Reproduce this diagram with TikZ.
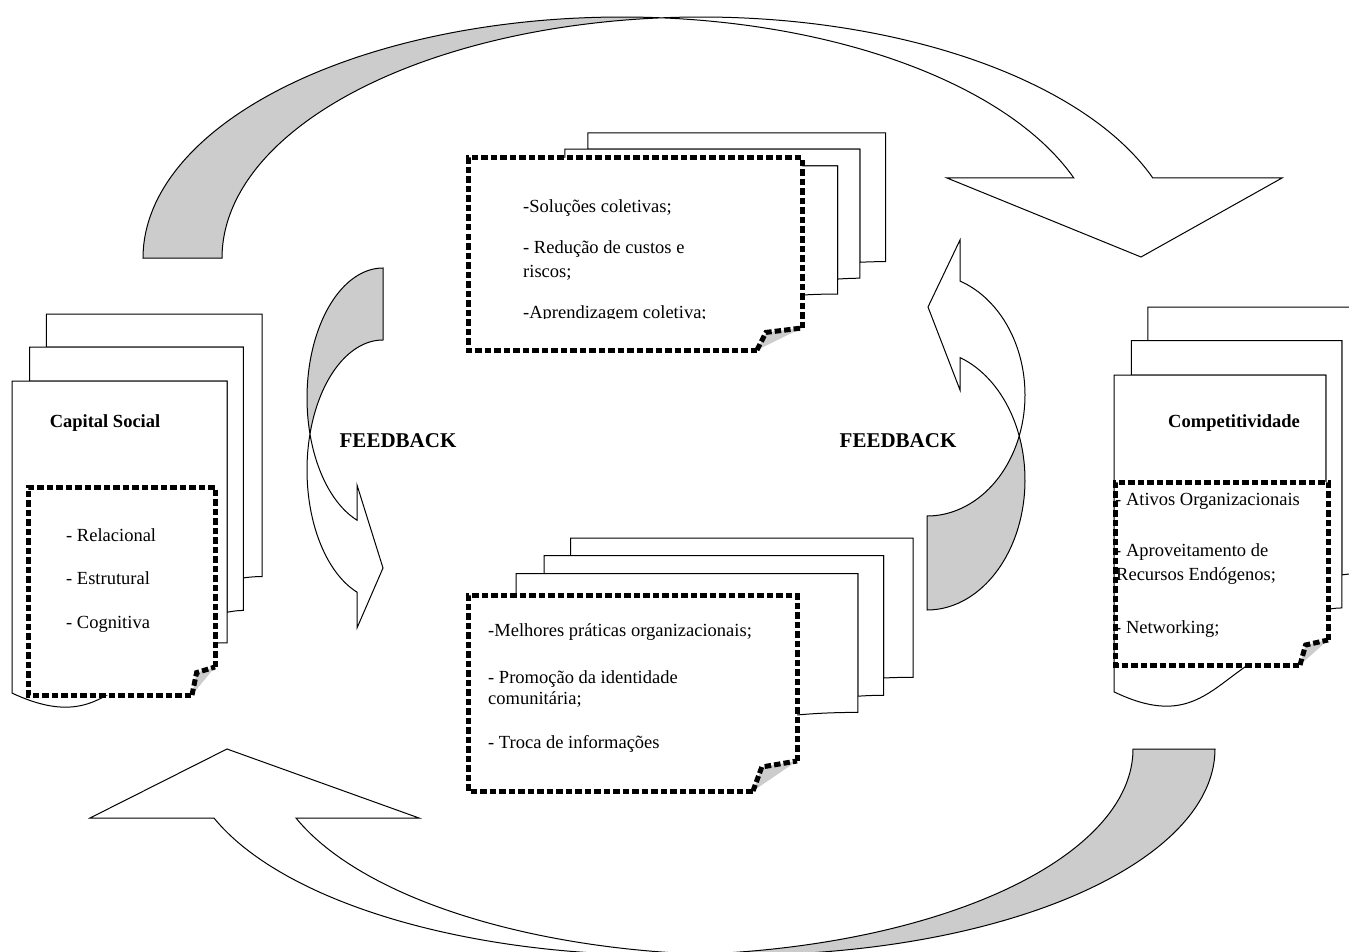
\documentclass[tikz,border=0pt]{standalone}
\usepackage{fontspec}
\setmainfont{Liberation Serif}
\definecolor{backgray}{RGB}{204,204,204}
\tikzset{
  page/.style={draw=black, fill=white, line width=1pt, line join=miter},
  ribbon/.style={draw=black, line width=1pt, line join=miter},
  dotborder/.style={draw=black, line width=5pt, dash pattern=on 6.5pt off 3pt},
  itemtext/.style={anchor=base west, inner sep=0pt, font=\fontsize{18.5}{22}\selectfont},
  headtext/.style={anchor=base, inner sep=0pt, font=\fontsize{18.5}{22}\selectfont\bfseries},
  fbtext/.style={anchor=base, inner sep=0pt, font=\fontsize{21}{24}\selectfont\bfseries},
}
% stack of three pages: left, top, width, height
\newcommand\multidoc[4]{%
  \begin{scope}[shift={(#1,#2)}, xscale=#3, yscale=#4]
    \filldraw[page] (.1376,.0840) -- (.1376,0) -- (1,0) -- (1,.6663)
      .. controls (.9630,.6663) and (.9259,.6698) .. (.9259,.6698) -- (.9259,.0840) -- cycle;
    \filldraw[page] (.0709,.1701) -- (.0709,.0840) -- (.9259,.0840) -- (.9259,.7524)
      .. controls (.8935,.7524) and (.8609,.7570) .. (.8609,.7570) -- (.8609,.1701) -- cycle;
    \filldraw[page] (0,.9621) .. controls (.4305,1.0899) and (.4305,.8344) .. (.8609,.8344)
      -- (.8609,.1701) -- (0,.1701) -- cycle;
  \end{scope}}
% dotted box with a folded corner: left, top, right, bottom, fold dx, fold dy
\newcommand\foldbox[6]{%
  \fill[white] (#1,#2) -- (#3,#2) -- (#3,{#4-#6}) -- ({#3-#5},#4) -- (#1,#4) -- cycle;
  \filldraw[dotborder, fill=backgray] ({#3-#5},#4) -- ({#3-0.8*#5},{#4-0.8*#6}) -- (#3,{#4-#6});
  \draw[dotborder] (#3,{#4-#6}) -- (#3,#2) -- (#1,#2) -- (#1,#4) -- ({#3-#5},#4);}
\begin{document}
\begin{tikzpicture}[x=1pt, y=-1pt]
\useasboundingbox (0,0) rectangle (1349,952);
\clip (0,0) rectangle (1349,952);

% ---- upper loop arrow (pointing down to the right) ----
\filldraw[ribbon, fill=backgray]
  plot[domain=180:274.73, samples=90] ({622+479*cos(\x)},{258+241*sin(\x)})
  -- plot[domain=265.27:180, samples=90] ({701+479*cos(\x)},{258+241*sin(\x)}) -- cycle;
\filldraw[ribbon, fill=white]
  plot[domain=265.27:340.61, samples=90] ({701+479*cos(\x)},{258+241*sin(\x)})
  -- (1282,178) -- (1141,257) -- (947,178)
  -- plot[domain=340.61:274.73, samples=90] ({622+479*cos(\x)},{258+241*sin(\x)}) -- cycle;

% ---- lower loop arrow (pointing up to the left) ----
\filldraw[ribbon, fill=backgray]
  plot[domain=0:94.97, samples=90] ({741.8+473.2*cos(\x)},{749+206*sin(\x)})
  -- plot[domain=85.03:0, samples=90] ({659.8+473.2*cos(\x)},{749+206*sin(\x)}) -- cycle;
\filldraw[ribbon, fill=white]
  plot[domain=85.03:160.43, samples=90] ({659.8+473.2*cos(\x)},{749+206*sin(\x)})
  -- (90,818) -- (227,749) -- (419,818)
  -- plot[domain=160.43:94.97, samples=90] ({741.8+473.2*cos(\x)},{749+206*sin(\x)}) -- cycle;

% ---- left feedback arrow ----
\filldraw[ribbon, fill=backgray]
  plot[domain=270:163.92, samples=60] ({383+76*cos(\x)},{398+130*sin(\x)})
  -- plot[domain=196.08:270, samples=60] ({383+76*cos(\x)},{470+130*sin(\x)}) -- cycle;
\filldraw[ribbon, fill=white]
  plot[domain=196.08:110, samples=60] ({383+76*cos(\x)},{470+130*sin(\x)})
  -- (357,628) -- (383,568) -- (357,485)
  -- plot[domain=110:163.92, samples=60] ({383+76*cos(\x)},{398+130*sin(\x)}) -- cycle;

% ---- right feedback arrow ----
\filldraw[ribbon, fill=backgray]
  plot[domain=-19.78:90, samples=60] ({927+98*cos(\x)},{480+130*sin(\x)})
  -- plot[domain=90:19.81, samples=60] ({927+98*cos(\x)},{395+121*sin(\x)}) -- cycle;
\filldraw[ribbon, fill=white]
  plot[domain=-70.32:19.81, samples=60] ({927+98*cos(\x)},{395+121*sin(\x)})
  -- plot[domain=-19.78:-70.32, samples=60] ({927+98*cos(\x)},{480+130*sin(\x)})
  -- (960,390) -- (928,307) -- (960,240) -- cycle;

% ---- page stacks ----
\multidoc{12}{314}{250}{394}
\multidoc{1114}{307}{246}{400}
\multidoc{540.5}{133}{345}{193}
\multidoc{516}{538}{397}{209}

% ---- dotted boxes ----
\foldbox{28}{487}{215}{695}{23}{28}
\foldbox{1115}{482}{1328}{665}{28}{25}
\foldbox{468}{158}{802}{350}{45}{22}
\foldbox{468}{595}{797}{791}{44}{30}

% ---- texts ----
\node[headtext] (cs) at (105,427) {Capital Social};
\node[itemtext] (cs1) at (66,541) {- Relacional};
\node[itemtext] (cs2) at (66,584) {- Estrutural};
\node[itemtext] (cs3) at (66,628) {- Cognitiva};

\node[headtext] (cp) at (1234,427) {Competitividade};
\node[itemtext] (cp1) at (1115,505) {- Ativos Organizacionais};
\node[itemtext] (cp2) at (1115,556) {- Aproveitamento de};
\node[itemtext] (cp3) at (1116,580) {Recursos Endógenos;};
\node[itemtext] (cp4) at (1115,633) {- Networking;};

\begin{scope}
  \clip (468,150) rectangle (802,318.5);
  \node[itemtext] (t1) at (523,213) {-Soluções coletivas;};
  \node[itemtext] (t2) at (523,254) {- Redução de custos e};
  \node[itemtext] (t3) at (523,277) {riscos;};
  \node[itemtext] (t4) at (523,318) {-Aprendizagem coletiva;};
\end{scope}

\node[itemtext] (b1) at (488,636) {-Melhores práticas organizacionais;};
\node[itemtext] (b2) at (488,683) {- Promoção da identidade};
\node[itemtext] (b3) at (488,704) {comunitária;};
\node[itemtext] (b4) at (488,748) {- Troca de informações};

\node[fbtext] (fbl) at (398,447) {FEEDBACK};
\node[fbtext] (fbr) at (898,447) {FEEDBACK};
\end{tikzpicture}
\end{document}
